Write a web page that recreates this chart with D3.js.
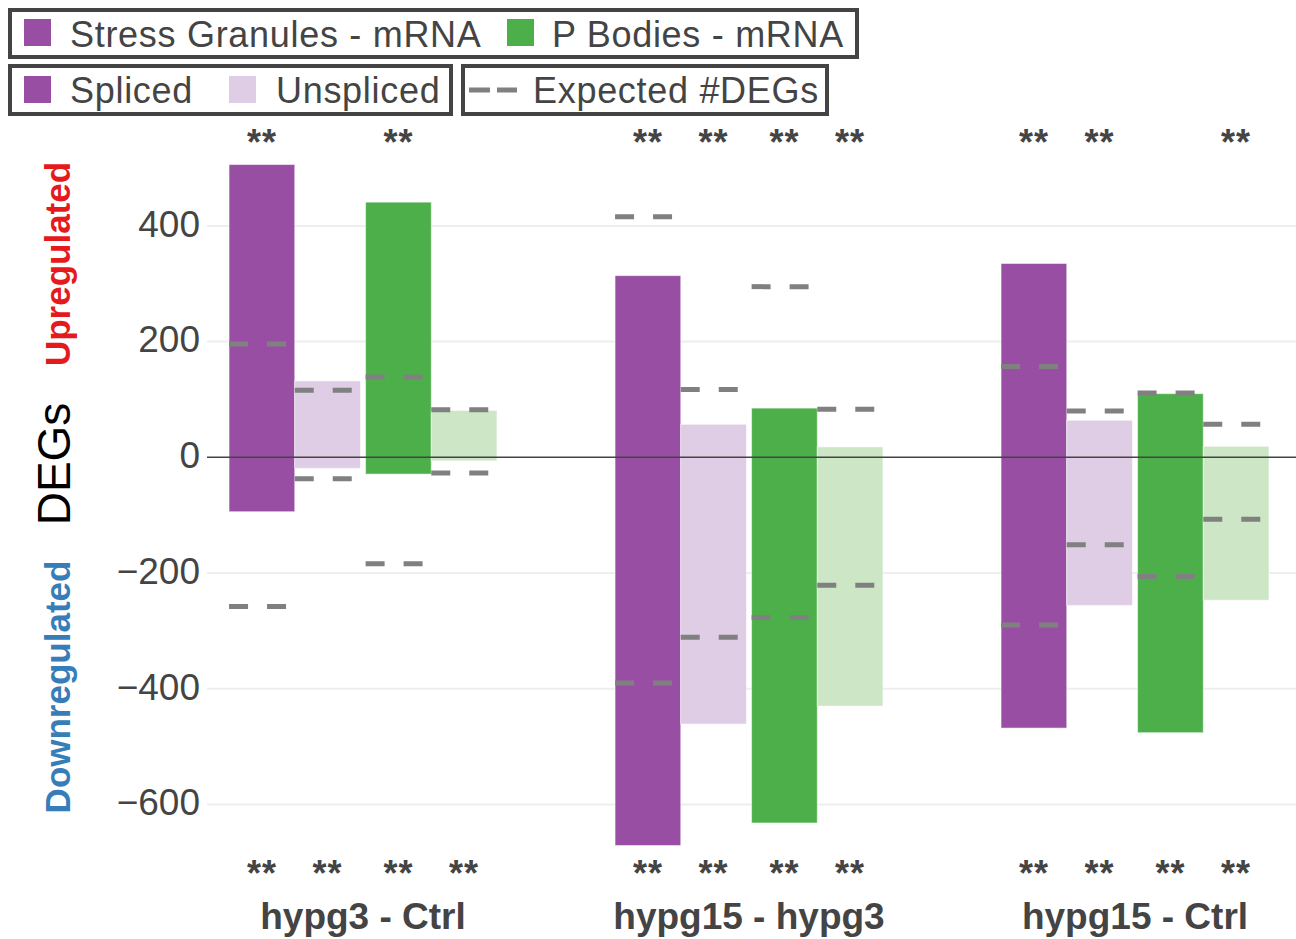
<!DOCTYPE html>
<html>
<head>
<meta charset="utf-8">
<script src="https://cdn.jsdelivr.net/npm/d3@7"></script>
<style>
  html, body { margin: 0; padding: 0; background: #fff; }
  svg { display: block; font-family: "Liberation Sans", Arial, sans-serif; }
</style>
</head>
<body>
<script>
// comparisons along the x axis
var groups = ["hypg3 - Ctrl", "hypg15 - hypg3", "hypg15 - Ctrl"];
var compartments = ["SG", "PB"];
var splicing = ["Spliced", "Unspliced"];

// observed DEGs (up / down), one array per series, in group order
var sgSplicedUp = [506, 314, 335];
var sgSplicedDown = [-94, -671, -468];
var sgUnsplicedUp = [132, 57, 64];
var sgUnsplicedDown = [-19, -461, -256];
var pbSplicedUp = [441, 85, 110];
var pbSplicedDown = [-29, -632, -476];
var pbUnsplicedUp = [81, 18, 19];
var pbUnsplicedDown = [-6, -430, -247];

// expected #DEGs (dashed marks)
var sgSplicedExpUp = [196, 416, 157];
var sgSplicedExpDown = [-258, -390, -290];
var sgUnsplicedExpUp = [116, 117, 80];
var sgUnsplicedExpDown = [-37, -311, -151];
var pbSplicedExpUp = [139, 295, 111];
var pbSplicedExpDown = [-184, -277, -206];
var pbUnsplicedExpUp = [82, 83, 57];
var pbUnsplicedExpDown = [-27, -221, -107];

// significance stars (**) above / below
var sgSplicedSigUp = [true, true, true];
var sgUnsplicedSigUp = [false, true, true];
var pbSplicedSigUp = [true, true, false];
var pbUnsplicedSigUp = [false, true, true];
var sigDownAll = [true, true, true];

var yTicks = [-600, -400, -200, 0, 200, 400];

var colors = {
    SG: { Spliced: "#984ea3", Unspliced: "#decde4" },
    PB: { Spliced: "#4daf4a", Unspliced: "#cde6c6" } };

var series = [
    { comp: "SG", splice: "Spliced", up: sgSplicedUp, down: sgSplicedDown,
      expUp: sgSplicedExpUp, expDown: sgSplicedExpDown, sigUp: sgSplicedSigUp, sigDown: sigDownAll },
    { comp: "SG", splice: "Unspliced", up: sgUnsplicedUp, down: sgUnsplicedDown,
      expUp: sgUnsplicedExpUp, expDown: sgUnsplicedExpDown, sigUp: sgUnsplicedSigUp, sigDown: sigDownAll },
    { comp: "PB", splice: "Spliced", up: pbSplicedUp, down: pbSplicedDown,
      expUp: pbSplicedExpUp, expDown: pbSplicedExpDown, sigUp: pbSplicedSigUp, sigDown: sigDownAll },
    { comp: "PB", splice: "Unspliced", up: pbUnsplicedUp, down: pbUnsplicedDown,
      expUp: pbUnsplicedExpUp, expDown: pbUnsplicedExpDown, sigUp: pbUnsplicedSigUp, sigDown: sigDownAll }];

var bars = [];
series.forEach(function(s) {
    groups.forEach(function(g, i) {
        bars.push({ group: g, comp: s.comp, splice: s.splice,
            up: s.up[i], down: s.down[i], expUp: s.expUp[i], expDown: s.expDown[i],
            sigUp: s.sigUp[i], sigDown: s.sigDown[i] }); }); });

var W = 1296, H = 939;
var plotLeft = 207, plotRight = 1296;
var textCol = "#444";

var svg = d3.select("body").append("svg")
    .attr("width", W)
    .attr("height", H);

var x0 = d3.scaleBand()
    .domain(groups)
    .range([170, 1328])
    .paddingInner(0.306)
    .paddingOuter(0.153);

var x1 = d3.scaleBand()
    .domain(compartments)
    .range([0, x0.bandwidth()])
    .paddingInner(0.038);

var x2 = d3.scaleBand()
    .domain(splicing)
    .range([0, x1.bandwidth()]);

var y = d3.scaleLinear()
    .domain([-700, 550])
    .range([862.3, 139.1]);

function barX(d) {
    return x0(d.group) + x1(d.comp) + x2(d.splice); }

// grid
svg.append("g").selectAll("line")
    .data(yTicks.filter(function(t) { return t !== 0; }))
    .enter().append("line")
        .attr("x1", plotLeft).attr("x2", plotRight)
        .attr("y1", function(d) { return y(d); })
        .attr("y2", function(d) { return y(d); })
        .attr("stroke", "#eeeeee")
        .attr("stroke-width", 2);

// y axis labels
var yAxis = d3.axisLeft(y).tickValues(yTicks).tickSize(0).tickPadding(7)
    .tickFormat(function(d) { return d < 0 ? "\u2212" + Math.abs(d) : d; });
var ya = svg.append("g")
    .attr("transform", "translate(" + plotLeft + ",0)")
    .call(yAxis);
ya.select(".domain").remove();
ya.selectAll("text")
    .attr("fill", textCol)
    .attr("font-size", 37)
    .attr("font-family", "Liberation Sans, Arial, sans-serif")
    .attr("dy", "0.28em");

// bars
svg.append("g").selectAll("rect")
    .data(bars)
    .enter().append("rect")
        .attr("x", barX)
        .attr("width", x2.bandwidth())
        .attr("y", function(d) { return y(d.up); })
        .attr("height", function(d) { return y(d.down) - y(d.up); })
        .attr("fill", function(d) { return colors[d.comp][d.splice]; })
        .attr("stroke", "rgba(255,255,255,0.5)")
        .attr("stroke-width", 1);

// zero line
svg.append("line")
    .attr("x1", plotLeft).attr("x2", plotRight)
    .attr("y1", y(0)).attr("y2", y(0))
    .attr("stroke", "#444")
    .attr("stroke-width", 1.6);

// expected #DEGs
var expected = [];
bars.forEach(function(d) {
    expected.push({ bar: d, v: d.expUp });
    expected.push({ bar: d, v: d.expDown }); });

svg.append("g").selectAll("line")
    .data(expected)
    .enter().append("line")
        .attr("x1", function(d) { return barX(d.bar); })
        .attr("x2", function(d) { return barX(d.bar) + x2.bandwidth(); })
        .attr("y1", function(d) { return y(d.v); })
        .attr("y2", function(d) { return y(d.v); })
        .attr("stroke", "#808080")
        .attr("stroke-width", 5)
        .attr("stroke-dasharray", "19,19");

// significance stars
var stars = [];
bars.forEach(function(d) {
    if (d.sigUp) stars.push({ bar: d, pos: 155 });
    if (d.sigDown) stars.push({ bar: d, pos: 886 }); });

svg.append("g").selectAll("text")
    .data(stars)
    .enter().append("text")
        .attr("x", function(d) { return barX(d.bar) + x2.bandwidth() / 2; })
        .attr("y", function(d) { return d.pos; })
        .attr("text-anchor", "middle")
        .attr("font-size", 36)
        .attr("font-weight", "bold")
        .attr("letter-spacing", 1)
        .attr("fill", textCol)
        .text("**");

// group labels
svg.append("g").selectAll("text")
    .data(groups)
    .enter().append("text")
        .attr("x", function(d) { return x0(d) + x0.bandwidth() / 2; })
        .attr("y", 929)
        .attr("text-anchor", "middle")
        .attr("font-size", 37)
        .attr("font-weight", "bold")
        .attr("fill", textCol)
        .text(function(d) { return d; });

// y titles
function vText(txt, cy, size, weight, fill) {
    svg.append("text")
        .attr("transform", "translate(70," + cy + ") rotate(-90)")
        .attr("text-anchor", "middle")
        .attr("font-size", size)
        .attr("font-weight", weight)
        .attr("fill", fill)
        .text(txt); }
vText("Upregulated", 264, 35, "bold", "#e41a1c");
vText("DEGs", 464, 46, "normal", "#000");
vText("Downregulated", 687, 35, "bold", "#377eb8");

// legends
function legendBox(x, yy, w, h) {
    svg.append("rect")
        .attr("x", x).attr("y", yy).attr("width", w).attr("height", h)
        .attr("fill", "#fff")
        .attr("stroke", "#444")
        .attr("stroke-width", 4); }

function swatch(x, yy, fill) {
    svg.append("rect")
        .attr("x", x).attr("y", yy).attr("width", 27).attr("height", 27)
        .attr("fill", fill); }

function label(x, yy, txt) {
    svg.append("text")
        .attr("x", x).attr("y", yy)
        .attr("font-size", 36)
        .attr("letter-spacing", 0.7)
        .attr("fill", textCol)
        .text(txt); }

legendBox(10, 10, 847, 47);
swatch(24, 19, colors.SG.Spliced);
label(70, 47, "Stress Granules - mRNA");
swatch(507, 19, colors.PB.Spliced);
label(552, 47, "P Bodies - mRNA");

legendBox(10, 66, 441, 48);
swatch(24, 76, colors.SG.Spliced);
label(70, 103, "Spliced");
swatch(229, 76, colors.SG.Unspliced);
label(276, 103, "Unspliced");

legendBox(463, 66, 364, 48);
svg.append("line")
    .attr("x1", 469).attr("x2", 517)
    .attr("y1", 90).attr("y2", 90)
    .attr("stroke", "#808080")
    .attr("stroke-width", 5)
    .attr("stroke-dasharray", "21,7");
label(533, 103, "Expected #DEGs");
</script>
</body>
</html>
